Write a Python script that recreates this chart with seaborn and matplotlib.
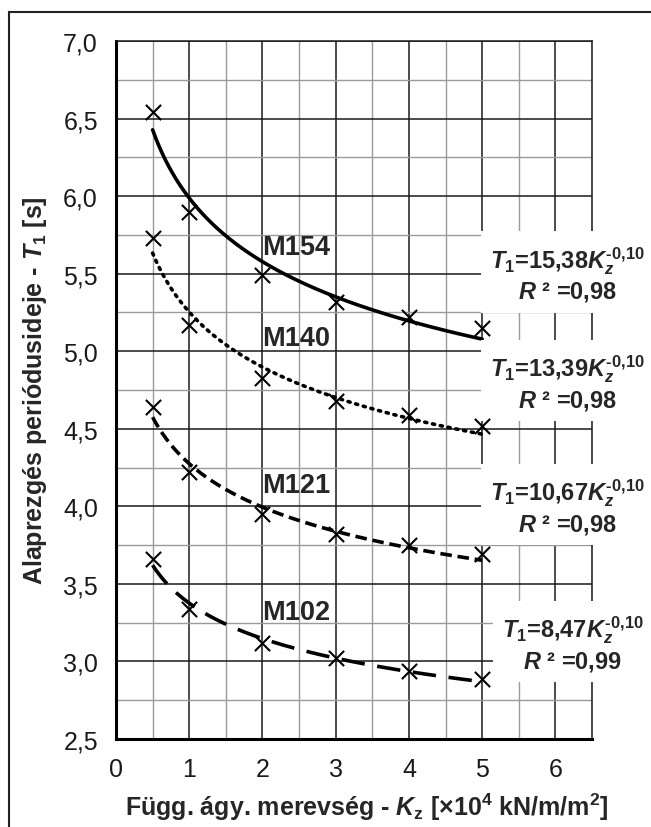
import numpy as np
import pandas as pd
import matplotlib
matplotlib.use("Agg")
import matplotlib.pyplot as plt
import matplotlib.patches as mpatches
from matplotlib.ticker import MultipleLocator, FuncFormatter
import seaborn as sns

# ---- data ----
kz = [0.5, 1, 2, 3, 4, 5]
m154 = [6.54, 5.90, 5.49, 5.32, 5.22, 5.15]
m140 = [5.73, 5.17, 4.83, 4.68, 4.59, 4.52]
m121 = [4.64, 4.22, 3.95, 3.82, 3.75, 3.69]
m102 = [3.66, 3.34, 3.12, 3.02, 2.94, 2.89]
series_names = ["M154", "M140", "M121", "M102"]
coef_labels = ["15,38", "13,39", "10,67", "8,47"]
exp_label = "\u2010" + "0{,}10"
r2_labels = ["0,98", "0,98", "0,98", "0,99"]
x_ticks = [0, 1, 2, 3, 4, 5, 6]
y_ticks = [2.5, 3.0, 3.5, 4.0, 4.5, 5.0, 5.5, 6.0, 6.5, 7.0]

sns.set_theme(style="white")
plt.rcParams["font.family"] = ["Liberation Sans", "DejaVu Sans"]
plt.rcParams["mathtext.fontset"] = "custom"
plt.rcParams["mathtext.rm"] = "Liberation Sans:bold"
plt.rcParams["mathtext.it"] = "Liberation Sans:italic:bold"
plt.rcParams["mathtext.bf"] = "Liberation Sans:bold"

fig = plt.figure(figsize=(6.51, 8.28), dpi=100)
ax = fig.add_axes([116/651, 1-740/828, 476/651, 698/828])

all_series = [m154, m140, m121, m102]
styles = [
    dict(ls="-", dashes=None),
    dict(ls=":", dashes=(0.6, 1.6)),
    dict(ls="--", dashes=(3.2, 1.6)),
    dict(ls="--", dashes=(6.5, 3.5)),
]

for vals, st in zip(all_series, styles):
    df = pd.DataFrame({"kz": kz, "T": vals})
    b, ln_a = np.polyfit(np.log(df["kz"]), np.log(df["T"]), 1)
    xs = np.linspace(min(kz), max(kz), 200)
    fit = pd.DataFrame({"kz": xs, "T": np.exp(ln_a) * xs ** b})
    sns.lineplot(data=fit, x="kz", y="T", ax=ax, color="black", linewidth=2.6,
                 linestyle=st["ls"], zorder=3)
    line = ax.lines[-1]
    if st["dashes"] is not None:
        line.set_dashes(st["dashes"])
        if st["ls"] == ":":
            line.set_dash_capstyle("round")
    sns.scatterplot(data=df, x="kz", y="T", ax=ax, marker="x", color="black",
                    s=120, linewidth=1.5, zorder=7)

# labels of series
label_pos = [(2.0, 5.67), (2.0, 5.085), (2.0, 4.14), (2.0, 3.32)]
for name, (lx, ly) in zip(series_names, label_pos):
    ax.text(lx, ly, name, fontsize=19.5, fontweight="bold", ha="left",
            va="center", zorder=5)

# equation boxes
box_pos = [(6.17, 5.50), (6.17, 4.80), (6.17, 4.00), (6.24, 3.12)]
for (bx, by), c, r2 in zip(box_pos, coef_labels, r2_labels):
    txt = "$T_1$=" + c + "$K_z^{" + exp_label + "}$\n$R$ ² =" + r2
    ax.text(bx, by, txt, fontsize=17, fontweight="bold", ha="center",
            va="center", multialignment="center", linespacing=1.2,
            bbox=dict(boxstyle="square,pad=0.4", facecolor="white",
                      edgecolor="none"),
            zorder=6, clip_on=False)

ax.set_xlim(0, 6.5)
ax.set_ylim(2.5, 7.0)
ax.set_xticks(x_ticks)
ax.set_yticks(y_ticks)
ax.xaxis.set_minor_locator(MultipleLocator(0.5))
ax.yaxis.set_minor_locator(MultipleLocator(0.25))
ax.yaxis.set_major_formatter(FuncFormatter(lambda v, p: f"{v:.1f}".replace(".", ",")))
ax.xaxis.set_major_formatter(FuncFormatter(lambda v, p: f"{v:.0f}"))
ax.tick_params(which="both", length=0)
ax.tick_params(axis="both", labelsize=18, colors="#1a1a1a", pad=13)
ax.grid(which="major", color="#1a1a1a", linewidth=1.1)
ax.grid(which="minor", color="#9a9a9a", linewidth=1.0)
ax.set_axisbelow(True)
for side in ["left", "bottom"]:
    ax.spines[side].set_linewidth(2.2)
    ax.spines[side].set_color("black")
for side in ["top", "right"]:
    ax.spines[side].set_linewidth(1.1)
    ax.spines[side].set_color("#1a1a1a")

ax.set_xlabel("Függ. ágy. merevség - $K_{\\mathrm{z}}$ [×10$^{4}$ kN/m/m$^{2}$]",
              fontsize=18, fontweight="bold", va="center")
ax.xaxis.set_label_coords((367-116)/476, (740-807)/698)
ax.set_ylabel("Alaprezgés periódusideje - $T_{1}$ [s]",
              fontsize=18, fontweight="bold", va="center")
ax.yaxis.set_label_coords((35-116)/476, 0.5)

# figure border (cropped at right and bottom)
border = mpatches.Rectangle((9/651, -0.1), 1.2, 1-13/828+0.1,
                            transform=fig.transFigure, fill=False,
                            edgecolor="#222222", linewidth=1.5, clip_on=False)
fig.patches.append(border)

fig.savefig("out.png", dpi=100, facecolor="white")
